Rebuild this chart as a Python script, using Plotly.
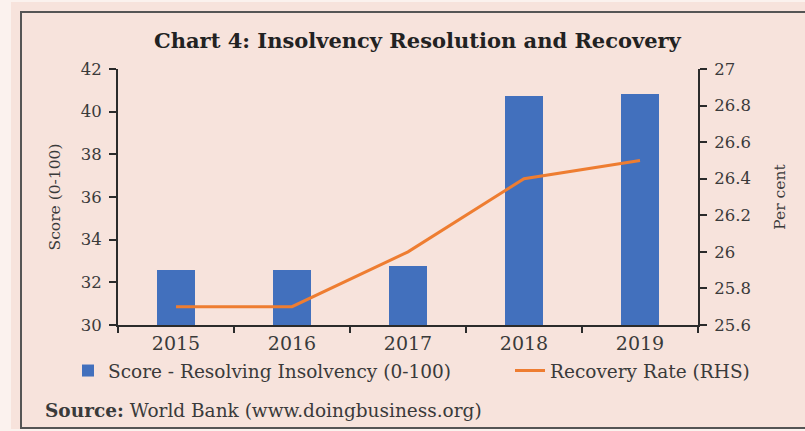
import plotly.graph_objects as go

# Doing Business indicators for India
years = ["2015", "2016", "2017", "2018", "2019"]
insolvency_score = [32.6, 32.6, 32.75, 40.75, 40.85]   # Score - Resolving Insolvency (0-100)
recovery_rate = [25.7, 25.7, 26.0, 26.4, 26.5]         # Recovery Rate, per cent (RHS)

left_ticks = [30, 32, 34, 36, 38, 40, 42]
right_ticks = [25.6, 25.8, 26.0, 26.2, 26.4, 26.6, 26.8, 27.0]
right_tick_text = ["25.6", "25.8", "26", "26.2", "26.4", "26.6", "26.8", "27"]

SERIF = "DejaVu Serif"
INK = "#3a3a3a"
BG = "#f7e3dc"

# plot-area geometry in pixels
W, H = 805, 431
ML, MR, MT, MB = 118, 107, 69, 106
PW, PH = W - ML - MR, H - MT - MB


def px_x(x):
    return (x - ML) / PW


def px_y(y):
    return (H - MB - y) / PH


fig = go.Figure()

fig.add_trace(go.Bar(
    x=years, y=insolvency_score,
    name="Score - Resolving Insolvency (0-100)",
    marker=dict(color="#4270bd", line=dict(width=0)),
    width=0.32,
    yaxis="y",
    legend="legend",
))

fig.add_trace(go.Scatter(
    x=years, y=recovery_rate,
    name="Recovery Rate (RHS)",
    mode="lines",
    line=dict(color="#ee7d31", width=3),
    yaxis="y2",
    legend="legend2",
))

legend_style = dict(
    orientation="h",
    xanchor="left", yanchor="top",
    bgcolor="rgba(0,0,0,0)",
    font=dict(family=SERIF, size=18.5, color=INK),
    itemwidth=30,
)

fig.update_layout(
    width=W, height=H,
    margin=dict(l=ML, r=MR, t=MT, b=MB),
    paper_bgcolor=BG,
    plot_bgcolor=BG,
    font=dict(family=SERIF, color=INK),
    bargap=0,
    showlegend=True,
    legend=dict(x=px_x(68), y=px_y(352), **legend_style),
    legend2=dict(x=px_x(510), y=px_y(352), **legend_style),
    xaxis=dict(
        type="category",
        range=[-0.5, 4.5],
        showline=True, linecolor="#2b2b2b", linewidth=2,
        ticks="outside", tickson="boundaries", ticklen=6, tickwidth=2, tickcolor="#2b2b2b",
        tickfont=dict(family=SERIF, size=19, color=INK),
        showgrid=False, zeroline=False,
    ),
    yaxis=dict(
        range=[30, 42],
        tickvals=left_ticks,
        showline=True, linecolor="#2b2b2b", linewidth=2,
        ticks="outside", ticklen=7, tickwidth=2, tickcolor="#2b2b2b",
        ticklabelstandoff=4,
        tickfont=dict(family=SERIF, size=16.5, color=INK),
        title=dict(text="Score (0-100)", font=dict(family=SERIF, size=15.5, color=INK), standoff=16),
        showgrid=False, zeroline=False,
    ),
    yaxis2=dict(
        range=[25.6, 27.0],
        tickvals=right_ticks, ticktext=right_tick_text,
        overlaying="y", side="right",
        showline=True, linecolor="#2b2b2b", linewidth=2,
        ticks="outside", ticklen=7, tickwidth=2, tickcolor="#2b2b2b",
        ticklabelstandoff=4,
        tickfont=dict(family=SERIF, size=16.5, color=INK),
        title=dict(text="Per cent", font=dict(family=SERIF, size=15.5, color=INK), standoff=24),
        showgrid=False, zeroline=False,
    ),
)

# Title
fig.add_annotation(
    text="<b>Chart 4: Insolvency Resolution and Recovery</b>",
    xref="paper", yref="paper", x=px_x(418), y=px_y(40),
    xanchor="center", yanchor="middle", showarrow=False,
    font=dict(family=SERIF, size=21, color="#222222"),
)

# Source note
fig.add_annotation(
    text="<b>Source:</b> World Bank (www.doingbusiness.org)",
    xref="paper", yref="paper", x=px_x(43), y=px_y(410),
    xanchor="left", yanchor="middle", showarrow=False,
    font=dict(family=SERIF, size=18.5, color=INK),
)

# Pale outer margin and the frame around the panel
fig.update_layout(shapes=[
    dict(type="rect", xref="paper", yref="paper",
         x0=px_x(0), x1=px_x(11), y0=px_y(H + 5), y1=px_y(-5),
         line=dict(width=0), fillcolor="#fbf2ee", layer="below"),
    dict(type="rect", xref="paper", yref="paper",
         x0=px_x(0), x1=px_x(W + 5), y0=px_y(2), y1=px_y(-5),
         line=dict(width=0), fillcolor="#fbf2ee", layer="below"),
    dict(type="rect", xref="paper", yref="paper",
         x0=px_x(0), x1=px_x(W + 5), y0=px_y(H + 5), y1=px_y(429),
         line=dict(width=0), fillcolor="#fbf2ee", layer="below"),
    dict(type="rect", xref="paper", yref="paper",
         x0=px_x(21), x1=px_x(W + 10), y0=px_y(428), y1=px_y(12),
         line=dict(width=2, color="#555555"), fillcolor="rgba(0,0,0,0)", layer="above"),
])

fig.write_html("out.html")
